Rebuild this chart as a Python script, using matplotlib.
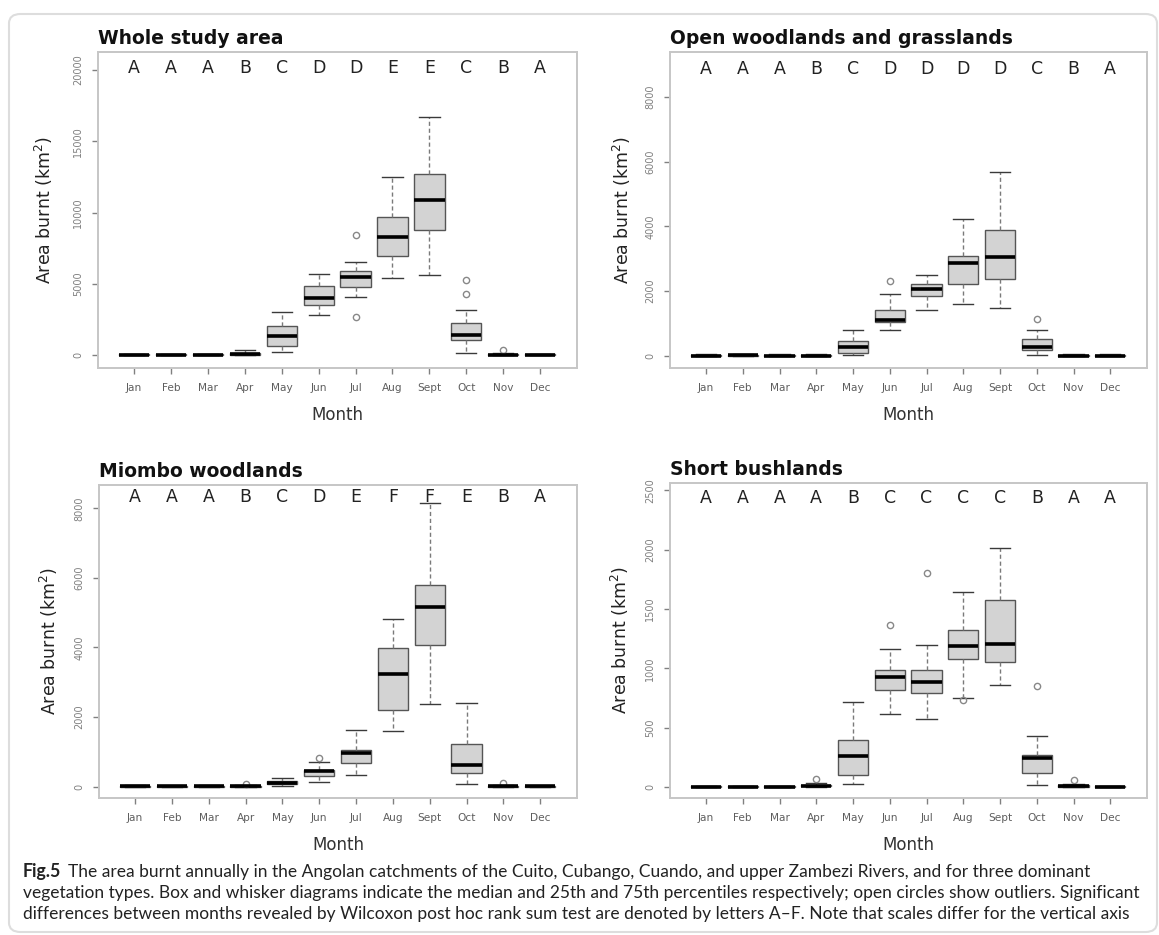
import matplotlib
matplotlib.use("Agg")
import matplotlib.pyplot as plt
from matplotlib import font_manager as fm
from matplotlib import transforms
from matplotlib.patches import FancyBboxPatch

# ---------------- data ----------------
months = ["Jan", "Feb", "Mar", "Apr", "May", "Jun", "Jul", "Aug", "Sept", "Oct", "Nov", "Dec"]

# Whole study area
whole_lo = [0, 0, 0, 0, 190, 2830, 4040, 5400, 5610, 140, 0, 0]
whole_q1 = [0, 0, 0, 20, 610, 3530, 4770, 6960, 8780, 1030, 0, 0]
whole_med = [10, 10, 10, 60, 1310, 3995, 5470, 8250, 10860, 1425, 20, 10]
whole_q3 = [40, 40, 40, 120, 2010, 4860, 5860, 9690, 12730, 2240, 80, 50]
whole_hi = [90, 80, 80, 330, 2990, 5680, 6560, 12520, 16730, 3130, 150, 100]
whole_fliers = [[], [], [], [], [], [], [2640, 8410], [], [], [4300, 5230], [370], []]
whole_letters = ["A", "A", "A", "B", "C", "D", "D", "E", "E", "C", "B", "A"]

# Open woodlands and grasslands
open_lo = [0, 0, 0, 0, 30, 780, 1420, 1610, 1480, 30, 0, 0]
open_q1 = [0, 0, 0, 0, 90, 1040, 1850, 2230, 2360, 165, 0, 0]
open_med = [5, 10, 5, 5, 280, 1110, 2070, 2880, 3040, 270, 5, 5]
open_q3 = [20, 30, 20, 20, 450, 1420, 2230, 3070, 3880, 525, 20, 20]
open_hi = [40, 60, 50, 50, 780, 1900, 2480, 4240, 5680, 780, 50, 50]
open_fliers = [[], [], [], [], [], [2310], [], [], [], [1120], [], []]
open_letters = ["A", "A", "A", "B", "C", "D", "D", "D", "D", "C", "B", "A"]

# Miombo woodlands
miombo_lo = [0, 0, 0, 0, 30, 125, 325, 1590, 2370, 67, 0, 0]
miombo_q1 = [0, 0, 0, 0, 70, 315, 690, 2200, 4070, 400, 0, 0]
miombo_med = [5, 5, 5, 5, 105, 440, 970, 3230, 5150, 615, 10, 5]
miombo_q3 = [20, 15, 20, 20, 160, 490, 1045, 3990, 5810, 1240, 30, 15]
miombo_hi = [40, 30, 40, 40, 250, 710, 1640, 4830, 8160, 2410, 60, 30]
miombo_fliers = [[], [], [], [86], [], [825], [], [], [], [], [105], []]
miombo_letters = ["A", "A", "A", "B", "C", "D", "E", "F", "F", "E", "B", "A"]

# Short bushlands
short_lo = [0, 0, 0, 2, 28, 612, 576, 753, 857, 20, 0, 0]
short_q1 = [0, 0, 0, 5, 104, 815, 795, 1081, 1053, 118, 2, 0]
short_med = [2, 2, 2, 12, 264, 927, 888, 1188, 1205, 244, 8, 2]
short_q3 = [5, 5, 5, 20, 399, 989, 989, 1323, 1573, 272, 15, 5]
short_hi = [8, 10, 10, 30, 716, 1163, 1194, 1640, 2017, 427, 25, 8]
short_fliers = [[], [], [], [65], [], [1368], [1803], [730], [], [851], [62], []]
short_letters = ["A", "A", "A", "A", "B", "C", "C", "C", "C", "B", "A", "A"]

titles = ["Whole study area", "Open woodlands and grasslands",
          "Miombo woodlands", "Short bushlands"]

caption_bold = "Fig.5"
caption_lines = [
    "The area burnt annually in the Angolan catchments of the Cuito, Cubango, Cuando, and upper Zambezi Rivers, and for three dominant",
    "vegetation types. Box and whisker diagrams indicate the median and 25th and 75th percentiles respectively; open circles show outliers. Significant",
    "differences between months revealed by Wilcoxon post hoc rank sum test are denoted by letters A\u2013F. Note that scales differ for the vertical axis",
]


# ---------------- helpers ----------------
def has_font(name):
    try:
        fm.findfont(fm.FontProperties(family=name), fallback_to_default=False)
        return True
    except ValueError:
        return False


NARROW_OK = has_font("Liberation Sans Narrow")
NARROW = "Liberation Sans Narrow" if NARROW_OK else "DejaVu Sans"
CAPFONT = "Lato" if has_font("Lato") else "DejaVu Sans"
XTICKSIZE = 10.2 if NARROW_OK else 7.6
YTICKSIZE = 9.4 if NARROW_OK else 7.0

W, H = 1159, 935
fig = plt.figure(figsize=(W / 100, H / 100), dpi=100)
fig.patch.set_facecolor("white")


def frac_rect(left, top, right, bottom):
    return [left / W, 1 - bottom / H, (right - left) / W, (bottom - top) / H]


panels = [
    dict(rect=frac_rect(98, 52, 577, 368), title=titles[0],
         lo=whole_lo, q1=whole_q1, med=whole_med, q3=whole_q3, hi=whole_hi,
         fl=whole_fliers, letters=whole_letters,
         ylim=(-912, 21263), yticks=[0, 5000, 10000, 15000, 20000],
         letter_y=0.949, ylab_x=-0.112, xlab_y=-0.149),
    dict(rect=frac_rect(670, 52, 1147, 368), title=titles[1],
         lo=open_lo, q1=open_q1, med=open_med, q3=open_q3, hi=open_hi,
         fl=open_fliers, letters=open_letters,
         ylim=(-380, 9390), yticks=[0, 2000, 4000, 6000, 8000],
         letter_y=0.946, ylab_x=-0.100, xlab_y=-0.149),
    dict(rect=frac_rect(99, 485, 577, 798), title=titles[2],
         lo=miombo_lo, q1=miombo_q1, med=miombo_med, q3=miombo_q3, hi=miombo_hi,
         fl=miombo_fliers, letters=miombo_letters,
         ylim=(-326, 8670), yticks=[0, 2000, 4000, 6000, 8000],
         letter_y=0.962, ylab_x=-0.105, xlab_y=-0.150),
    dict(rect=frac_rect(670, 483, 1147, 798), title=titles[3],
         lo=short_lo, q1=short_q1, med=short_med, q3=short_q3, hi=short_hi,
         fl=short_fliers, letters=short_letters,
         ylim=(-93, 2562), yticks=[0, 500, 1000, 1500, 2000, 2500],
         letter_y=0.952, ylab_x=-0.105, xlab_y=-0.149),
]

positions = list(range(1, len(months) + 1))

for p in panels:
    ax = fig.add_axes(p["rect"])
    stats = []
    for i in range(len(months)):
        stats.append(dict(med=p["med"][i], q1=p["q1"][i], q3=p["q3"][i],
                          whislo=p["lo"][i], whishi=p["hi"][i], fliers=p["fl"][i]))
    ax.bxp(stats, positions=positions, widths=0.82, capwidths=0.55,
           patch_artist=True, manage_ticks=False,
           boxprops=dict(facecolor="#d3d3d3", edgecolor="#555555", linewidth=1.0),
           medianprops=dict(color="black", linewidth=2.6, solid_capstyle="butt"),
           whiskerprops=dict(color="#7a7a7a", linestyle=(0, (3, 2)), linewidth=1.0),
           capprops=dict(color="#3a3a3a", linewidth=1.0),
           flierprops=dict(marker="o", markerfacecolor="none", markeredgecolor="#888888",
                           markersize=4.5, markeredgewidth=1.0))
    ax.set_xlim(0.02, 13.0)
    ax.set_ylim(*p["ylim"])
    ax.set_xticks(positions)
    ax.set_xticklabels(months, fontsize=XTICKSIZE, color="#5e5e5e", family=NARROW)
    ax.set_yticks(p["yticks"])
    ax.set_yticklabels([str(v) for v in p["yticks"]], fontsize=YTICKSIZE,
                       color="#808080", family=NARROW, rotation=90, va="center")
    ax.tick_params(axis="both", length=4.5, width=1.0, color="#808080")
    ax.tick_params(axis="x", pad=6)
    ax.tick_params(axis="y", pad=6)
    for s in ax.spines.values():
        s.set_color("#c6c6c6")
        s.set_linewidth(1.4)

    ax.set_title(p["title"], loc="left", fontsize=13.5, fontweight="bold", pad=6,
                 color="#111111")
    ax.set_ylabel("Area burnt (km$^2$)", fontsize=12.5, color="#222222", va="center")
    ax.yaxis.set_label_coords(p["ylab_x"], 0.5)
    ax.set_xlabel("Month", fontsize=12, color="#333333", va="center")
    ax.xaxis.set_label_coords(0.5, p["xlab_y"])

    trans = transforms.blended_transform_factory(ax.transData, ax.transAxes)
    for x, let in zip(positions, p["letters"]):
        ax.text(x, p["letter_y"], let, transform=trans, ha="center", va="center",
                fontsize=12.5, color="#222222")

# ---------------- caption ----------------
renderer = fig.canvas.get_renderer()
probe = fig.text(0, 0, caption_lines[1], fontsize=11, family=CAPFONT)
w = probe.get_window_extent(renderer).width
probe.remove()
cap_size = 11 * (1139 - 23) / w

line_y = [872, 893, 914]
fb = fig.text(23 / W, 1 - line_y[0] / H, caption_bold, fontsize=cap_size * 1.02,
              fontweight="bold", family=CAPFONT, va="center", color="#222222")
bw = fb.get_window_extent(renderer).width
fig.text((23 + bw + 7) / W, 1 - line_y[0] / H, caption_lines[0], fontsize=cap_size,
         family=CAPFONT, va="center", color="#222222")
for y, line in zip(line_y[1:], caption_lines[1:]):
    fig.text(23 / W, 1 - y / H, line, fontsize=cap_size, family=CAPFONT,
             va="center", color="#222222")

# ---------------- outer border ----------------
border = FancyBboxPatch((9 / W, 1 - 932 / H), (1157 - 9) / W, (932 - 14) / H,
                        boxstyle="round,pad=0,rounding_size=0.01",
                        transform=fig.transFigure, fill=False,
                        edgecolor="#dddddd", linewidth=1.5)
fig.add_artist(border)

fig.savefig("out.png", dpi=100, facecolor="white")
